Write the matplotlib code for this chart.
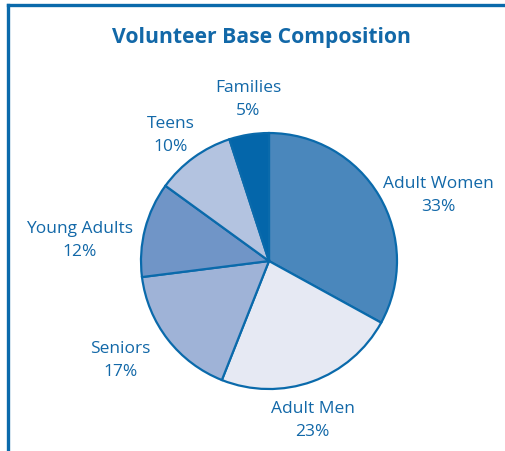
import matplotlib.pyplot as plt
from matplotlib.lines import Line2D

# Data
categories = ["Adult Women", "Adult Men", "Seniors", "Young Adults", "Teens", "Families"]
shares = [33, 23, 17, 12, 10, 5]
colors = ["#4a87bc", "#e6e9f3", "#9fb3d7", "#7095c7", "#b3c3e0", "#0466aa"]

# label anchor points (data units, pie radius = 1)
label_xy = [(1.32, 0.52), (0.34, -1.24), (-1.16, -0.77), (-1.48, 0.17), (-0.77, 0.99), (-0.16, 1.27)]

blue = "#1268a8"
plt.rcParams['font.family'] = ['Open Sans', 'DejaVu Sans']

fig = plt.figure(figsize=(5.05, 4.52), dpi=100)
ax = fig.add_axes([0.0764, 0.0097, 0.9125, 0.8212])

ax.pie(shares, colors=colors, startangle=90, counterclock=False, radius=1,
       wedgeprops=dict(edgecolor="#0a6aab", linewidth=1.6))
ax.set_xlim(-1.8, 1.8)
ax.set_ylim(-1.45, 1.45)
ax.set_aspect('equal')
ax.axis('off')

for name, val, (x, y) in zip(categories, shares, label_xy):
    ax.text(x, y, f"{name}\n{val}%", ha='center', va='center', fontsize=12.5,
            color=blue, linespacing=1.55)

fig.text(0.517, 1 - 38 / 452, "Volunteer Base Composition", ha='center', va='center',
         fontsize=15.2, fontweight='bold', color=blue)

# frame on top and left
fig.add_artist(Line2D([0.0149, 1.0], [0.9867, 0.9867], color="#0a6aab", linewidth=2.4))
fig.add_artist(Line2D([0.0149, 0.0149], [0.0, 0.9867], color="#0a6aab", linewidth=2.4))

plt.savefig("out.png", dpi=100)
